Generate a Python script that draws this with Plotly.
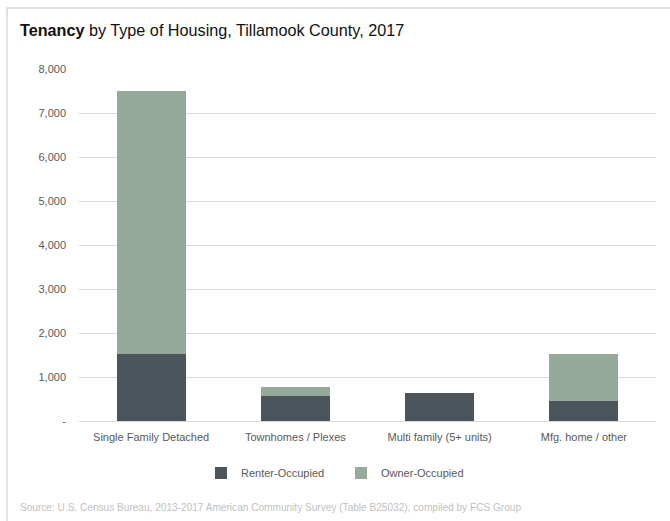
import plotly.graph_objects as go

categories = ["Single Family Detached", "Townhomes / Plexes", "Multi family (5+ units)", "Mfg. home / other"]
renter_occupied = [1520, 560, 630, 455]
owner_occupied = [5980, 205, 0, 1060]
tick_values = [0, 1000, 2000, 3000, 4000, 5000, 6000, 7000, 8000]
tick_labels = ["-", "1,000", "2,000", "3,000", "4,000", "5,000", "6,000", "7,000", "8,000"]

W, H = 670, 521
L, R, T, B = 79, 14, 69, 100
PW, PH = W - L - R, H - T - B

def px_x(px):
    return (px - L) / PW

def px_y(py):
    return 1 - (py - T) / PH

FONT = "Liberation Sans, Arial, sans-serif"
GRAY = "#595959"

fig = go.Figure()
fig.add_trace(go.Bar(x=categories, y=renter_occupied, name="Renter-Occupied",
                     marker=dict(color="#4B555B", line=dict(width=0))))
fig.add_trace(go.Bar(x=categories, y=owner_occupied, name="Owner-Occupied",
                     marker=dict(color="#95AA9B", line=dict(width=0))))

fig.update_layout(
    width=W, height=H,
    margin=dict(l=L, r=R, t=T, b=B),
    barmode="stack", bargap=0.52,
    plot_bgcolor="white", paper_bgcolor="white",
    font=dict(family=FONT, size=11, color=GRAY),
    showlegend=True,
    legend=dict(orientation="h", x=px_x(201), y=px_y(473), xanchor="left", yanchor="middle",
                traceorder="normal", font=dict(size=11, color=GRAY),
                entrywidth=95, entrywidthmode="pixels"),
    xaxis=dict(showgrid=False, showline=False, ticks="", tickfont=dict(size=11, color=GRAY),
               ticklabelstandoff=8),
    yaxis=dict(range=[0, 8000], tickvals=tick_values, ticktext=tick_labels,
               showgrid=True, gridcolor="#D9D9D9", gridwidth=1,
               zeroline=True, zerolinecolor="#D9D9D9", zerolinewidth=1,
               showline=False, ticks="", ticklabelstandoff=12,
               tickfont=dict(size=11, color=GRAY)),
)

fig.add_shape(type="rect", xref="paper", yref="paper",
              x0=px_x(7), x1=px_x(700), y0=px_y(540), y1=px_y(8),
              line=dict(color="#D9D9D9", width=1.5), fillcolor="rgba(0,0,0,0)", layer="below")

fig.add_annotation(xref="paper", yref="paper", x=px_x(18), y=px_y(30),
                   xanchor="left", yanchor="middle", showarrow=False,
                   text="<b>Tenancy</b> by Type of Housing, Tillamook County, 2017",
                   font=dict(family=FONT, size=16.2, color="#111111"))

fig.add_annotation(xref="paper", yref="paper", x=px_x(18), y=px_y(507),
                   xanchor="left", yanchor="middle", showarrow=False,
                   text="Source: U.S. Census Bureau, 2013-2017 American Community Survey (Table B25032), compiled by FCS Group",
                   font=dict(family=FONT, size=10.1, color="#BFBFBF"))

fig.write_html("out.html", config={"displayModeBar": False},
               post_script="document.body.style.margin='0';document.body.style.padding='0';")
